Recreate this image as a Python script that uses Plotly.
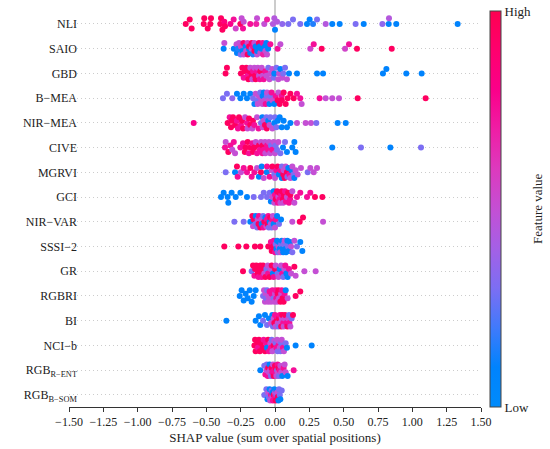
import numpy as np
import plotly.graph_objects as go

# feature names, top to bottom
features = [
    "NLI", "SAIO", "GBD", "B−MEA", "NIR−MEA", "CIVE", "MGRVI", "GCI",
    "NIR−VAR", "SSSI−2", "GR", "RGBRI", "BI", "NCI−b",
    "RGB<sub>R−ENT</sub>", "RGB<sub>B−SOM</sub>",
]

# SHAP values and (normalised) feature values per feature
nli_shap = [-0.650, -0.621, -0.607, -0.519, -0.515, -0.490, -0.466, -0.471, -0.398, -0.393,
            -0.383, -0.369, -0.364, -0.325, -0.301, -0.286, -0.252, -0.243, -0.228, -0.233,
            -0.180, -0.136, -0.131, -0.078, -0.058, -0.015, 0.000, -0.005, 0.015, 0.053,
            0.097, 0.131, 0.184, 0.233, 0.252, 0.277, 0.306, 0.369, 0.417, 0.471,
            0.587, 0.646, 0.782, 0.828, 0.830, 0.883, 1.330]
nli_feat = [0.95, 0.95, 0.95, 0.95, 0.95, 0.95, 0.95, 0.95, 0.95, 0.95,
            0.95, 0.85, 0.95, 0.8, 0.75, 0.55, 0.95, 0.5, 0.5, 0.75,
            0.75, 0.7, 0.5, 0.5, 0.7, 0.45, 0.1, 0.45, 0.45, 0.35,
            0.3, 0.3, 0.3, 0.1, 0.1, 0.15, 0.3, 0.45, 0.1, 0.1,
            0.3, 0.1, 0.35, 0.1, 0.45, 0.1, 0.1]

saio_shap = [-0.369, -0.374, -0.300, -0.280, -0.277, -0.270, -0.262, -0.250, -0.248, -0.238,
             -0.230, -0.228, -0.214, -0.210, -0.200, -0.199, -0.190, -0.189, -0.180, -0.170,
             -0.170, -0.160, -0.160, -0.150, -0.150, -0.141, -0.131, -0.130, -0.117, -0.110,
             -0.107, -0.097, -0.090, -0.087, -0.073, -0.070, -0.063, -0.058, -0.050, -0.034,
             0.019, 0.039, 0.257, 0.282, 0.340, 0.510, 0.539, 0.597, 0.850]
saio_feat = [0.5, 0.1, 0.1, 0.5, 0.1, 0.15, 0.5, 0.3, 0.55, 0.1,
             0.9, 0.5, 0.1, 0.5, 0.55, 0.95, 0.1, 0.95, 0.1, 0.9,
             0.5, 0.15, 0.75, 0.95, 0.5, 0.1, 0.5, 0.1, 0.95, 0.1,
             0.5, 0.1, 0.75, 0.7, 0.1, 0.5, 0.1, 0.5, 0.1, 0.75,
             0.75, 0.5, 0.55, 0.75, 0.95, 0.55, 0.75, 0.95, 0.95]

gbd_shap = [-0.350, -0.360, -0.248, -0.238, -0.228, -0.220, -0.209, -0.200, -0.194, -0.185,
            -0.180, -0.170, -0.165, -0.160, -0.150, -0.145, -0.141, -0.131, -0.125, -0.117,
            -0.110, -0.107, -0.097, -0.090, -0.082, -0.070, -0.063, -0.049, -0.040, -0.034,
            -0.020, -0.010, -0.005, 0.010, 0.024, 0.030, 0.039, 0.053, 0.060, 0.073,
            0.087, 0.102, 0.160, 0.306, 0.350, 0.786, 0.811, 0.956, 1.068]
gbd_feat = [0.95, 0.95, 0.95, 0.95, 0.75, 0.95, 0.95, 0.75, 0.95, 0.95,
            0.5, 0.95, 0.5, 0.75, 0.5, 0.95, 0.95, 0.75, 0.5, 0.5,
            0.75, 0.95, 0.5, 0.5, 0.75, 0.75, 0.5, 0.3, 0.5, 0.5,
            0.5, 0.3, 0.1, 0.3, 0.5, 0.5, 0.1, 0.5, 0.3, 0.3,
            0.5, 0.1, 0.1, 0.1, 0.1, 0.1, 0.1, 0.1, 0.1]

bmea_shap = [-0.379, -0.350, -0.311, -0.277, -0.252, -0.228, -0.204, -0.180, -0.160, -0.150,
             -0.141, -0.130, -0.126, -0.117, -0.107, -0.100, -0.092, -0.090, -0.082, -0.075,
             -0.068, -0.060, -0.058, -0.044, -0.040, -0.034, -0.025, -0.019, -0.005, 0.005,
             0.019, 0.025, 0.034, 0.049, 0.050, 0.063, 0.078, 0.092, 0.112, 0.136,
             0.160, 0.184, 0.194, 0.325, 0.369, 0.417, 0.466, 0.602, 1.097]
bmea_feat = [0.3, 0.3, 0.35, 0.1, 0.1, 0.1, 0.1, 0.1, 0.3, 0.1,
             0.5, 0.3, 0.5, 0.5, 0.3, 0.5, 0.5, 0.1, 0.1, 0.5,
             0.75, 0.3, 0.5, 0.5, 0.1, 0.3, 0.75, 0.5, 0.1, 0.75,
             0.95, 0.5, 0.95, 0.75, 0.95, 0.95, 0.95, 0.95, 0.95, 0.95,
             0.75, 0.75, 0.5, 0.75, 0.5, 0.5, 0.5, 0.95, 0.95]

nirmea_shap = [-0.592, -0.345, -0.330, -0.320, -0.316, -0.306, -0.291, -0.277, -0.270, -0.262,
               -0.248, -0.240, -0.233, -0.218, -0.204, -0.200, -0.189, -0.180, -0.165, -0.160,
               -0.150, -0.131, -0.120, -0.102, -0.092, -0.090, -0.082, -0.073, -0.063, -0.060,
               -0.049, -0.040, -0.034, -0.019, -0.005, 0.000, 0.010, 0.020, 0.034, 0.049,
               0.063, 0.087, 0.112, 0.160, 0.223, 0.262, 0.301, 0.456, 0.515]
nirmea_feat = [0.8, 0.95, 0.75, 0.95, 0.95, 0.95, 0.95, 0.75, 0.75, 0.95,
               0.75, 0.95, 0.95, 0.5, 0.75, 0.5, 0.95, 0.95, 0.5, 0.95,
               0.75, 0.5, 0.75, 0.3, 0.1, 0.5, 0.5, 0.95, 0.3, 0.95,
               0.1, 0.5, 0.3, 0.5, 0.1, 0.3, 0.3, 0.1, 0.1, 0.1,
               0.1, 0.1, 0.1, 0.5, 0.5, 0.5, 0.3, 0.1, 0.1]

cive_shap = [-0.364, -0.359, -0.340, -0.325, -0.311, -0.300, -0.291, -0.252, -0.233, -0.220,
             -0.214, -0.199, -0.190, -0.180, -0.165, -0.160, -0.150, -0.140, -0.131, -0.117,
             -0.110, -0.102, -0.092, -0.090, -0.082, -0.073, -0.070, -0.058, -0.050, -0.044,
             -0.035, -0.029, -0.020, -0.010, 0.000, 0.005, 0.015, 0.024, 0.039, 0.058,
             0.073, 0.087, 0.126, 0.141, 0.150, 0.417, 0.626, 0.840, 1.063]
cive_feat = [0.75, 0.5, 0.95, 0.75, 0.5, 0.75, 0.5, 0.75, 0.75, 0.95,
             0.95, 0.95, 0.75, 0.95, 0.75, 0.95, 0.95, 0.5, 0.75, 0.95,
             0.75, 0.5, 0.75, 0.95, 0.75, 0.5, 0.5, 0.75, 0.75, 0.5,
             0.5, 0.3, 0.75, 0.5, 0.5, 0.3, 0.3, 0.5, 0.3, 0.1,
             0.3, 0.1, 0.1, 0.1, 0.1, 0.1, 0.3, 0.1, 0.3]

mgrvi_shap = [-0.359, -0.291, -0.277, -0.272, -0.248, -0.228, -0.204, -0.180, -0.170, -0.150,
              -0.131, -0.117, -0.102, -0.097, -0.082, -0.060, -0.058, -0.039, -0.024, -0.019,
              -0.005, 0.000, 0.010, 0.019, 0.029, 0.039, 0.049, 0.050, 0.060, 0.063,
              0.070, 0.078, 0.087, 0.090, 0.097, 0.105, 0.112, 0.120, 0.126, 0.135,
              0.141, 0.150, 0.165, 0.189, 0.238, 0.257, 0.282, 0.306]
mgrvi_feat = [0.3, 0.1, 0.95, 0.75, 0.5, 0.75, 0.75, 0.95, 0.75, 0.75,
              0.5, 0.1, 0.95, 0.1, 0.5, 0.1, 0.75, 0.75, 0.5, 0.95,
              0.3, 0.5, 0.75, 0.95, 0.1, 0.75, 0.1, 0.3, 0.95, 0.5,
              0.95, 0.5, 0.95, 0.3, 0.1, 0.75, 0.5, 0.1, 0.5, 0.3,
              0.1, 0.5, 0.5, 0.5, 0.3, 0.5, 0.5, 0.5]

gci_shap = [-0.393, -0.374, -0.345, -0.340, -0.316, -0.286, -0.252, -0.204, -0.155, -0.102,
            -0.082, -0.058, -0.039, -0.030, -0.019, -0.010, -0.005, 0.000, 0.005, 0.015,
            0.020, 0.024, 0.030, 0.034, 0.040, 0.045, 0.049, 0.058, 0.060, 0.065,
            0.073, 0.080, 0.087, 0.095, 0.102, 0.110, 0.112, 0.126, 0.141, 0.160,
            0.184, 0.233, 0.257, 0.291, 0.345]
gci_feat = [0.1, 0.1, 0.1, 0.1, 0.1, 0.1, 0.1, 0.1, 0.3, 0.3,
            0.3, 0.3, 0.3, 0.1, 0.5, 0.1, 0.5, 0.75, 0.95, 0.95,
            0.75, 0.5, 0.95, 0.75, 0.5, 0.75, 0.95, 0.95, 0.5, 0.95,
            0.75, 0.75, 0.5, 0.95, 0.75, 0.75, 0.95, 0.5, 0.5, 0.75,
            0.75, 0.75, 0.75, 0.95, 0.95]

nirvar_shap = [-0.296, -0.228, -0.180, -0.165, -0.160, -0.155, -0.141, -0.140, -0.130, -0.126,
               -0.120, -0.117, -0.107, -0.100, -0.097, -0.087, -0.085, -0.078, -0.070, -0.063,
               -0.060, -0.055, -0.049, -0.045, -0.039, -0.035, -0.030, -0.024, -0.020, -0.015,
               -0.010, 0.000, 0.005, 0.015, 0.029, 0.044, 0.126, 0.180, 0.204, 0.350]
nirvar_feat = [0.3, 0.3, 0.1, 0.95, 0.5, 0.95, 0.3, 0.1, 0.3, 0.5,
               0.95, 0.75, 0.95, 0.5, 0.1, 0.3, 0.75, 0.95, 0.1, 0.5,
               0.75, 0.95, 0.75, 0.3, 0.1, 0.95, 0.5, 0.3, 0.75, 0.5,
               0.1, 0.5, 0.75, 0.1, 0.3, 0.1, 0.5, 0.95, 0.95, 0.5]

sssi_shap = [-0.369, -0.267, -0.209, -0.146, -0.107, -0.049, -0.030, -0.024, -0.015, -0.010,
             0.000, 0.005, 0.010, 0.015, 0.020, 0.025, 0.029, 0.035, 0.039, 0.045,
             0.049, 0.055, 0.060, 0.063, 0.070, 0.078, 0.080, 0.087, 0.090, 0.095,
             0.102, 0.110, 0.117, 0.126, 0.141, 0.160, 0.184, 0.199]
sssi_feat = [0.95, 0.95, 0.95, 0.95, 0.95, 0.95, 0.75, 0.95, 0.95, 0.75,
             0.75, 0.3, 0.1, 0.1, 0.3, 0.5, 0.1, 0.1, 0.5, 0.3,
             0.1, 0.1, 0.1, 0.3, 0.5, 0.1, 0.1, 0.3, 0.1, 0.3,
             0.1, 0.1, 0.5, 0.3, 0.5, 0.3, 0.1, 0.1]

gr_shap = [-0.233, -0.170, -0.160, -0.150, -0.145, -0.136, -0.126, -0.120, -0.117, -0.107,
           -0.100, -0.097, -0.090, -0.087, -0.078, -0.070, -0.063, -0.053, -0.050, -0.039,
           -0.030, -0.024, -0.015, -0.010, 0.000, 0.005, 0.019, 0.025, 0.034, 0.044,
           0.053, 0.060, 0.068, 0.075, 0.083, 0.092, 0.102, 0.117, 0.141, 0.150,
           0.214, 0.296]
gr_feat = [0.95, 0.3, 0.95, 0.75, 0.95, 0.95, 0.95, 0.75, 0.95, 0.95,
           0.95, 0.75, 0.95, 0.95, 0.5, 0.95, 0.3, 0.5, 0.75, 0.95,
           0.5, 0.95, 0.1, 0.75, 0.95, 0.5, 0.3, 0.5, 0.1, 0.5,
           0.75, 0.3, 0.5, 0.75, 0.1, 0.1, 0.75, 0.5, 0.95, 0.5,
           0.5, 0.5]

rgbri_shap = [-0.257, -0.243, -0.228, -0.214, -0.199, -0.184, -0.170, -0.155, -0.141, -0.087,
              -0.080, -0.073, -0.068, -0.065, -0.058, -0.050, -0.049, -0.039, -0.035, -0.029,
              -0.025, -0.019, -0.010, -0.005, 0.000, 0.005, 0.010, 0.015, 0.019, 0.025,
              0.029, 0.039, 0.045, 0.049, 0.055, 0.063, 0.070, 0.078, 0.092, 0.150,
              0.184]
rgbri_feat = [0.1, 0.1, 0.1, 0.1, 0.1, 0.1, 0.1, 0.1, 0.1, 0.3,
              0.5, 0.5, 0.5, 0.3, 0.3, 0.5, 0.5, 0.75, 0.5, 0.5,
              0.75, 0.75, 0.3, 0.5, 0.5, 0.75, 0.75, 0.5, 0.95, 0.95,
              0.5, 0.95, 0.5, 0.75, 0.95, 0.95, 0.75, 0.1, 0.5, 0.95,
              0.95]

bi_shap = [-0.354, -0.141, -0.117, -0.107, -0.087, -0.073, -0.058, -0.044, -0.029, -0.020,
           -0.015, -0.010, -0.005, 0.000, 0.005, 0.010, 0.015, 0.020, 0.025, 0.029,
           0.035, 0.039, 0.045, 0.050, 0.053, 0.060, 0.063, 0.070, 0.073, 0.083,
           0.090, 0.097, 0.102, 0.105, 0.112, 0.121, 0.131]
bi_feat = [0.1, 0.1, 0.1, 0.1, 0.3, 0.1, 0.3, 0.1, 0.5, 0.1,
           0.3, 0.5, 0.95, 0.75, 0.5, 0.95, 0.75, 0.5, 0.3, 0.95,
           0.75, 0.5, 0.95, 0.5, 0.95, 0.75, 0.5, 0.5, 0.95, 0.75,
           0.95, 0.5, 0.3, 0.75, 0.5, 0.3, 0.95]

ncib_shap = [-0.150, -0.145, -0.141, -0.131, -0.125, -0.117, -0.110, -0.102, -0.090, -0.083,
             -0.073, -0.065, -0.058, -0.050, -0.044, -0.034, -0.030, -0.024, -0.019, -0.010,
             -0.005, 0.000, 0.005, 0.010, 0.015, 0.019, 0.025, 0.029, 0.035, 0.039,
             0.045, 0.049, 0.058, 0.065, 0.078, 0.087, 0.150, 0.267]
ncib_feat = [0.95, 0.95, 0.95, 0.95, 0.75, 0.95, 0.95, 0.95, 0.95, 0.75,
             0.95, 0.75, 0.1, 0.95, 0.75, 0.5, 0.75, 0.3, 0.5, 0.95,
             0.5, 0.5, 0.3, 0.75, 0.5, 0.3, 0.75, 0.5, 0.5, 0.3,
             0.3, 0.5, 0.75, 0.5, 0.3, 0.1, 0.1, 0.1]

rgbr_shap = [-0.107, -0.078, -0.070, -0.063, -0.060, -0.053, -0.050, -0.044, -0.039, -0.035,
             -0.029, -0.025, -0.019, -0.015, -0.010, -0.005, 0.000, 0.000, 0.005, 0.010,
             0.015, 0.019, 0.020, 0.025, 0.029, 0.035, 0.039, 0.045, 0.053, 0.063,
             0.070, 0.078, 0.092, 0.136]
rgbr_feat = [0.1, 0.3, 0.75, 0.5, 0.3, 0.75, 0.95, 0.5, 0.1, 0.5,
             0.3, 0.95, 0.75, 0.5, 0.95, 0.75, 0.95, 0.75, 0.95, 0.5,
             0.3, 0.75, 0.5, 0.95, 0.3, 0.75, 0.5, 0.5, 0.1, 0.75,
             0.5, 0.5, 0.1, 0.75]

rgbb_shap = [-0.078, -0.063, -0.055, -0.049, -0.045, -0.039, -0.035, -0.029, -0.025, -0.020,
             -0.019, -0.015, -0.010, -0.005, 0.000, 0.000, 0.005, 0.010, 0.010, 0.015,
             0.019, 0.025, 0.029, 0.035, 0.039, 0.049]
rgbb_feat = [0.3, 0.3, 0.1, 0.5, 0.3, 0.1, 0.5, 0.75, 0.3, 0.5,
             0.1, 0.75, 0.95, 0.1, 0.5, 0.75, 0.95, 0.3, 0.1, 0.5,
             0.95, 0.1, 0.3, 0.3, 0.1, 0.3]

rows = [
    (nli_shap, nli_feat), (saio_shap, saio_feat), (gbd_shap, gbd_feat),
    (bmea_shap, bmea_feat), (nirmea_shap, nirmea_feat), (cive_shap, cive_feat),
    (mgrvi_shap, mgrvi_feat), (gci_shap, gci_feat), (nirvar_shap, nirvar_feat),
    (sssi_shap, sssi_feat), (gr_shap, gr_feat), (rgbri_shap, rgbri_feat),
    (bi_shap, bi_feat), (ncib_shap, ncib_feat), (rgbr_shap, rgbr_feat),
    (rgbb_shap, rgbb_feat),
]

FONT = "Liberation Serif"
W, H = 550, 449
M_L, M_R, M_T, M_B = 69, 69, 0, 42
X_RANGE = [-1.5, 1.5]
Y_RANGE = [-0.49, 15.97]
PLOT_W = W - M_L - M_R
PX_PER_X = PLOT_W / (X_RANGE[1] - X_RANGE[0])
PX_PER_ROW = (H - M_T - M_B) / (Y_RANGE[1] - Y_RANGE[0])


def swarm(xs, d=5.0, step=4.4):
    """Beeswarm offsets (in row units) so markers don't pile on each other."""
    xs = np.asarray(xs, dtype=float) * PX_PER_X
    order = np.argsort(xs, kind="stable")
    placed = []
    ys = np.zeros(len(xs))
    first = [0.0, step, -step]
    fallback = [0.0, step / 2, -step / 2, step, -step, step * 1.3, -step * 1.3]
    for i in order:
        near = [(px, py) for px, py in placed if abs(px - xs[i]) < d]
        pick = None
        for off in first:
            if all(np.hypot(px - xs[i], py - off) >= d for px, py in near):
                pick = off
                break
        if pick is None:
            pick = max(fallback, key=lambda o: min(np.hypot(px - xs[i], py - o) for px, py in near))
        placed.append((xs[i], pick))
        ys[i] = pick
    return ys / PX_PER_ROW


def lch_hex(L, C, Hh):
    a, b = C * np.cos(Hh), C * np.sin(Hh)
    fy = (L + 16) / 116
    fx, fz = fy + a / 500, fy - b / 200

    def finv(t):
        return t ** 3 if t > 6 / 29 else 3 * (6 / 29) ** 2 * (t - 4 / 29)

    X, Y, Z = 0.95047 * finv(fx), finv(fy), 1.08883 * finv(fz)
    rgb = [3.2406 * X - 1.5372 * Y - 0.4986 * Z,
           -0.9689 * X + 1.8758 * Y + 0.0415 * Z,
           0.0557 * X - 0.2040 * Y + 1.0570 * Z]
    out = []
    for c in rgb:
        c = 12.92 * c if c <= 0.0031308 else 1.055 * c ** (1 / 2.4) - 0.055
        out.append(int(round(255 * min(max(c, 0), 1))))
    return "#%02x%02x%02x" % tuple(out)


# shap's red_blue map: straight line in LCH from blue to red
blue_lch = (54.0, 70.0, 4.6588)
red_lch = (54.0, 90.0, 0.35470565 + 2 * np.pi)
colorscale = []
for t in np.linspace(0, 1, 11):
    lch = [b + (r - b) * t for b, r in zip(blue_lch, red_lch)]
    colorscale.append([float(t), lch_hex(*lch)])

xs_all, ys_all, cs_all = [], [], []
n = len(features)
for i, (sv, fv) in enumerate(rows):
    pos = n - 1 - i
    off = swarm(sv)
    xs_all += list(sv)
    ys_all += list(pos + off)
    cs_all += list(fv)

plot_h = H - M_T - M_B
cb_mid = 1 - ((11 + H - M_B) / 2 - M_T) / plot_h

fig = go.Figure()
fig.add_trace(go.Scatter(
    x=xs_all, y=ys_all, mode="markers",
    marker=dict(
        size=6, color=cs_all, colorscale=colorscale, cmin=0, cmax=1,
        line=dict(width=0), opacity=1,
        colorbar=dict(
            thickness=11, len=(H - M_B - 11) / plot_h, lenmode="fraction",
            y=cb_mid, yanchor="middle",
            x=(490 - M_L) / PLOT_W, xanchor="left", xpad=0, ypad=0,
            outlinewidth=1, outlinecolor="#444",
            tickvals=[0, 1], ticktext=["Low", "High"], ticks="",
            tickfont=dict(family=FONT, size=13, color="#222"),
        ),
    ),
    hoverinfo="x", showlegend=False,
))

fig.add_shape(type="line", xref="x", yref="paper", x0=0, x1=0, y0=0, y1=1,
              line=dict(color="#999999", width=1), layer="below")

fig.add_annotation(text="Feature value", xref="paper", yref="paper",
                   x=(537 - M_L) / PLOT_W, y=cb_mid, textangle=-90,
                   showarrow=False, xanchor="center", yanchor="middle",
                   font=dict(family=FONT, size=13, color="#222"))

fig.update_layout(
    width=W, height=H,
    margin=dict(l=M_L, r=M_R, t=M_T, b=M_B),
    paper_bgcolor="white", plot_bgcolor="white",
    font=dict(family=FONT, size=12, color="#222"),
    xaxis=dict(
        range=X_RANGE, tickvals=list(np.arange(-1.5, 1.51, 0.25)), tickformat=".2f",
        showgrid=False, zeroline=False, showline=True, linecolor="#333", linewidth=1,
        ticks="outside", ticklen=4, tickcolor="#333",
        tickfont=dict(family=FONT, size=12, color="#222"),
        title=dict(text="SHAP value (sum over spatial positions)", standoff=4,
                   font=dict(family=FONT, size=13, color="#222")),
    ),
    yaxis=dict(
        range=Y_RANGE, tickvals=list(range(n)), ticktext=features[::-1],
        showgrid=True, gridcolor="#cccccc", gridwidth=1, griddash="1px,3px",
        zeroline=False, showline=False, ticks="", ticklen=0,
        anchor="free", position=8 / PLOT_W,
        tickfont=dict(family=FONT, size=12, color="#222"),
    ),
)

fig.write_html("out.html", config={"displayModeBar": False},
               post_script="document.body.style.margin='0';")
